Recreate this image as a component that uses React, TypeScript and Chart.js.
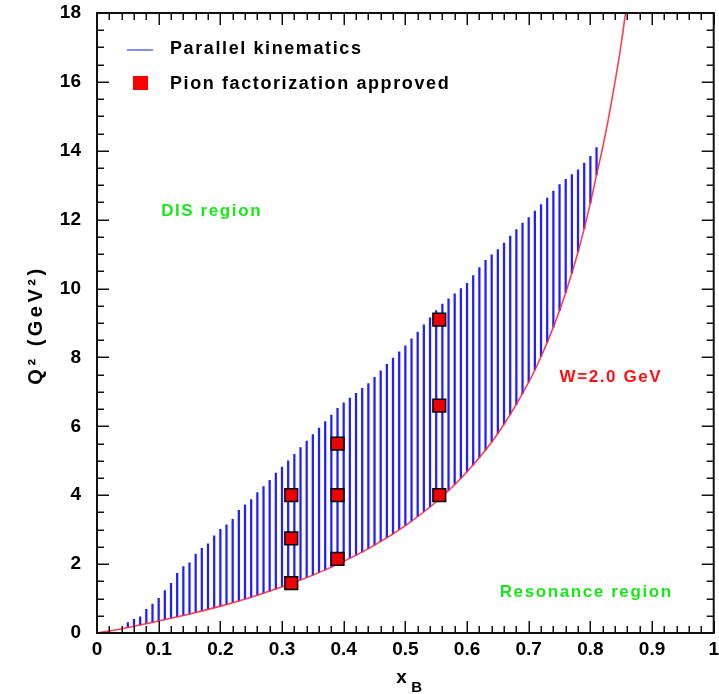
import React, { useEffect, useRef } from 'react';
import { Chart, registerables } from 'chart.js';

Chart.register(...registerables);

// ---- Data ----
const hatchX = [
  0.05, 0.06, 0.07, 0.08, 0.09, 0.10, 0.11, 0.12, 0.13, 0.14,
  0.15, 0.16, 0.17, 0.18, 0.19, 0.20, 0.21, 0.22, 0.23, 0.24,
  0.25, 0.26, 0.27, 0.28, 0.29, 0.30, 0.31, 0.32, 0.33, 0.34,
  0.35, 0.36, 0.37, 0.38, 0.39, 0.40, 0.41, 0.42, 0.43, 0.44,
  0.45, 0.46, 0.47, 0.48, 0.49, 0.50, 0.51, 0.52, 0.53, 0.54,
  0.55, 0.56, 0.57, 0.58, 0.59, 0.60, 0.61, 0.62, 0.63, 0.64,
  0.65, 0.66, 0.67, 0.68, 0.69, 0.70, 0.71, 0.72, 0.73, 0.74,
  0.75, 0.76, 0.77, 0.78, 0.79, 0.80, 0.81,
];
const hatchLow = [
  0.16, 0.20, 0.23, 0.27, 0.31, 0.35, 0.39, 0.43, 0.47, 0.51,
  0.55, 0.59, 0.64, 0.69, 0.73, 0.78, 0.83, 0.88, 0.93, 0.99,
  1.04, 1.10, 1.15, 1.21, 1.27, 1.34, 1.40, 1.47, 1.54, 1.61,
  1.68, 1.76, 1.83, 1.91, 2.00, 2.08, 2.17, 2.26, 2.35, 2.45,
  2.55, 2.66, 2.77, 2.88, 3.00, 3.12, 3.25, 3.38, 3.52, 3.66,
  3.81, 3.97, 4.14, 4.31, 4.49, 4.68, 4.88, 5.09, 5.31, 5.55,
  5.79, 6.06, 6.34, 6.63, 6.94, 7.28, 7.64, 8.02, 8.44, 8.88,
  9.36, 9.88, 10.45, 11.06, 11.74, 12.48, 13.30,
];
const hatchHigh = [
  0.30, 0.40, 0.47, 0.69, 0.84, 1.01, 1.23, 1.44, 1.73, 1.93,
  2.04, 2.29, 2.46, 2.59, 2.82, 3.01, 3.14, 3.30, 3.56, 3.72,
  3.87, 4.08, 4.25, 4.43, 4.64, 4.82, 5.00, 5.19, 5.38, 5.57,
  5.76, 5.95, 6.14, 6.33, 6.52, 6.68, 6.82, 6.96, 7.10, 7.24,
  7.42, 7.61, 7.80, 7.98, 8.16, 8.34, 8.54, 8.74, 8.95, 9.15,
  9.36, 9.55, 9.70, 9.85, 10.00, 10.15, 10.38, 10.61, 10.82, 10.98,
  11.13, 11.32, 11.52, 11.71, 11.90, 12.06, 12.25, 12.44, 12.63, 12.83,
  13.02, 13.17, 13.31, 13.45, 13.64, 13.84, 14.09,
];

const curveX = [0, 0.02, 0.05, 0.1, 0.15, 0.2, 0.25, 0.3, 0.35, 0.4, 0.45, 0.5, 0.55, 0.6, 0.65, 0.7, 0.72, 0.74, 0.76, 0.78, 0.8, 0.81, 0.82, 0.83, 0.84, 0.85, 0.86];
const curveQ2 = [0, 0.06, 0.16, 0.35, 0.55, 0.78, 1.04, 1.34, 1.68, 2.08, 2.55, 3.12, 3.81, 4.68, 5.79, 7.28, 8.02, 8.88, 9.88, 11.06, 12.48, 13.30, 14.1, 15.0, 16.0, 17.1, 18.4];

const pionX = [0.315, 0.315, 0.315, 0.39, 0.39, 0.39, 0.555, 0.555, 0.555];
const pionQ2 = [1.45, 2.75, 4.0, 2.15, 4.0, 5.5, 4.0, 6.6, 9.1];

const xTickLabels = ['0', '0.1', '0.2', '0.3', '0.4', '0.5', '0.6', '0.7', '0.8', '0.9', '1'];
const yTickLabels = ['0', '2', '4', '6', '8', '10', '12', '14', '16', '18'];

const legendLabels = ['Parallel kinematics', 'Pion factorization approved'];
const regionTexts = [
  { text: 'DIS region', x: 0.104, y: 12.24, color: '#18e818' },
  { text: 'Resonance region', x: 0.653, y: 1.19, color: '#18e818' },
  { text: 'W=2.0 GeV', x: 0.75, y: 7.41, color: '#ff1010' },
];

const FONT = "'Liberation Sans', Arial, Helvetica, sans-serif";

const decorPlugin = {
  id: 'decor',
  afterDatasetsDraw(chart: any) {
    const { ctx, chartArea: a, scales } = chart;
    const xs = scales.x;
    const ys = scales.y;
    ctx.save();
    ctx.strokeStyle = '#111';
    ctx.lineWidth = 1.5;
    ctx.beginPath();
    for (let i = 0; i <= 50; i++) {
      const px = Math.round(xs.getPixelForValue(i * 0.02)) + 0.25;
      const len = i % 5 === 0 ? 12 : 7;
      ctx.moveTo(px, a.bottom);
      ctx.lineTo(px, a.bottom - len);
      ctx.moveTo(px, a.top);
      ctx.lineTo(px, a.top + len);
    }
    for (let i = 0; i <= 36; i++) {
      const py = Math.round(ys.getPixelForValue(i * 0.5)) + 0.25;
      const len = i % 4 === 0 ? 12 : 7;
      ctx.moveTo(a.left, py);
      ctx.lineTo(a.left + len, py);
      ctx.moveTo(a.right, py);
      ctx.lineTo(a.right - len, py);
    }
    ctx.stroke();
    ctx.lineWidth = 2;
    ctx.strokeRect(a.left, a.top, a.right - a.left, a.bottom - a.top);
    ctx.restore();
  },
  afterDraw(chart: any) {
    const { ctx, chartArea: a, scales } = chart;
    const xs = scales.x;
    const ys = scales.y;
    ctx.save();
    // legend
    ctx.strokeStyle = '#8a8aff';
    ctx.lineWidth = 2;
    ctx.beginPath();
    ctx.moveTo(a.left + 30, a.top + 37);
    ctx.lineTo(a.left + 56, a.top + 37);
    ctx.stroke();
    ctx.fillStyle = '#ff0000';
    ctx.fillRect(a.left + 36, a.top + 63, 15, 14);
    ctx.fillStyle = '#000';
    ctx.font = `bold 18px ${FONT}`;
    (ctx as any).letterSpacing = '1.6px';
    ctx.textAlign = 'left';
    ctx.textBaseline = 'middle';
    ctx.fillText(legendLabels[0], a.left + 73, a.top + 36);
    ctx.fillText(legendLabels[1], a.left + 73, a.top + 71);

    // region labels
    ctx.font = `bold 17px ${FONT}`;
    (ctx as any).letterSpacing = '1.6px';
    for (const r of regionTexts) {
      ctx.fillStyle = r.color;
      ctx.fillText(r.text, xs.getPixelForValue(r.x), ys.getPixelForValue(r.y));
    }

    // y title
    (ctx as any).letterSpacing = '3.5px';
    ctx.fillStyle = '#000';
    ctx.font = `bold 20px ${FONT}`;
    ctx.translate(36, (a.top + a.bottom) / 2 + 2);
    ctx.rotate(-Math.PI / 2);
    ctx.textAlign = 'center';
    ctx.fillText('Q\u00B2 (GeV\u00B2)', 0, 0);
    ctx.setTransform(1, 0, 0, 1, 0, 0);

    // x title with subscript
    (ctx as any).letterSpacing = '0px';
    ctx.textAlign = 'left';
    ctx.textBaseline = 'alphabetic';
    ctx.font = `bold 19px ${FONT}`;
    const xc = xs.getPixelForValue(0.5);
    ctx.fillText('x', xc - 9, 683);
    ctx.font = `bold 15px ${FONT}`;
    ctx.fillText('B', xc + 6, 692);
    ctx.restore();
  },
};

export default function App() {
  const ref = useRef<HTMLCanvasElement>(null);
  useEffect(() => {
    if (!ref.current) return;
    const tickFont = { family: FONT, size: 19, weight: 'bold' as const };
    const chart = new Chart(ref.current, {
      type: 'scatter',
      data: {
        datasets: [
          {
            type: 'scatter',
            label: legendLabels[1],
            data: pionX.map((x, i) => ({ x, y: pionQ2[i] })),
            pointStyle: 'rect',
            pointRadius: 9,
            backgroundColor: '#ee0000',
            borderColor: '#000',
            borderWidth: 1.5,
          } as any,
          {
            type: 'line',
            label: 'W=2.0 GeV',
            data: curveX.map((x, i) => ({ x, y: curveQ2[i] })),
            borderColor: 'rgba(255,40,60,0.9)',
            borderWidth: 1.6,
            pointRadius: 0,
            cubicInterpolationMode: 'monotone',
            fill: false,
          } as any,
          {
            type: 'bar',
            label: legendLabels[0],
            data: hatchX.map((x, i) => ({ x, y: [hatchLow[i], hatchHigh[i]] })),
            backgroundColor: '#2020ff',
            borderWidth: 0,
            barThickness: 1.6,
            grouped: false,
          } as any,
        ],
      },
      options: {
        responsive: false,
        animation: false,
        devicePixelRatio: 1,
        events: [],
        layout: { autoPadding: false, padding: { left: 0, right: 5, top: 13, bottom: 0 } },
        plugins: { legend: { display: false }, tooltip: { enabled: false }, title: { display: false } },
        scales: {
          x: {
            type: 'linear',
            min: 0,
            max: 1,
            offset: false,
            grid: { display: false, drawTicks: false },
            border: { display: false },
            ticks: {
              stepSize: 0.1,
              padding: 0,
              maxRotation: 0,
              autoSkip: false,
              color: '#000',
              font: { ...tickFont, lineHeight: 1.73 },
              callback: (v: any) => {
                const i = Math.round(Number(v) * 10);
                return Math.abs(Number(v) * 10 - i) < 1e-6 ? xTickLabels[i] : '';
              },
            },
            afterFit: (s: any) => {
              s.height = 61;
            },
          },
          y: {
            type: 'linear',
            min: 0,
            max: 18,
            grid: { display: false, drawTicks: false },
            border: { display: false },
            ticks: {
              stepSize: 2,
              padding: 16,
              color: '#000',
              font: tickFont,
              callback: (v: any) => {
                const i = Math.round(Number(v) / 2);
                return Math.abs(Number(v) / 2 - i) < 1e-6 ? yTickLabels[i] : '';
              },
            },
            afterFit: (s: any) => {
              s.width = 97;
              s.paddingTop = 0;
              s.paddingBottom = 0;
            },
          },
        },
      } as any,
      plugins: [decorPlugin],
    });
    return () => chart.destroy();
  }, []);
  return (
    <div style={{ position: 'absolute', left: 0, top: 0, width: 719, height: 694, background: '#fff' }}>
      <canvas ref={ref} width={719} height={694} style={{ display: 'block', width: 719, height: 694 }} />
    </div>
  );
}
